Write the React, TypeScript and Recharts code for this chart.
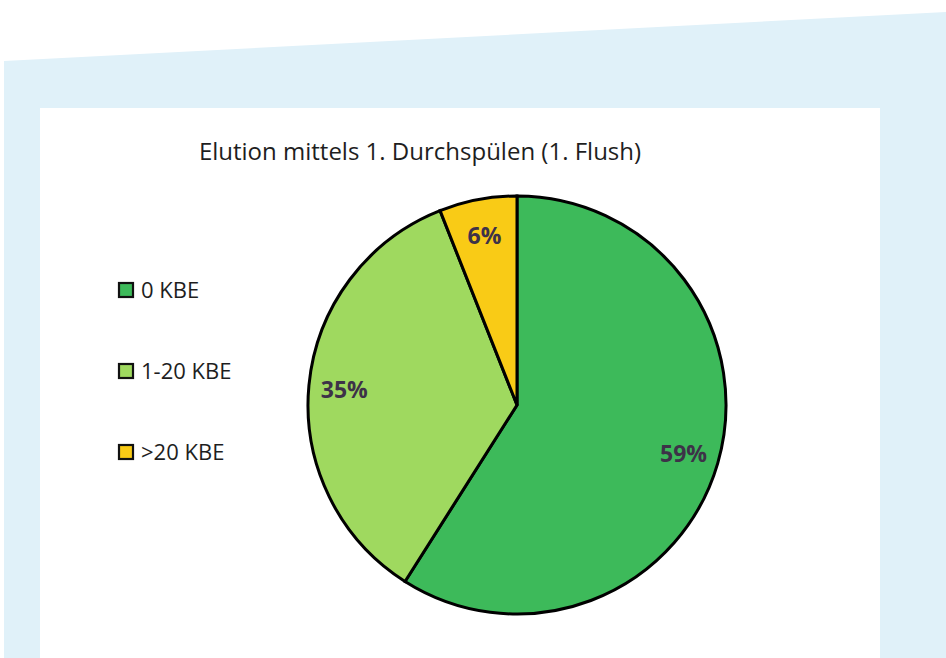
import { PieChart, Pie, Cell } from "recharts"

const categories = ["0 KBE", "1-20 KBE", ">20 KBE"]
const shares = [59, 35, 6]
const COLORS = ["#3dba5a", "#9fd95f", "#f9cb16"]
const TITLE = "Elution mittels 1. Durchspülen (1. Flush)"

const data = categories.map((name, i) => ({ name, value: shares[i] }))

const RAD = Math.PI / 180
const FONT = "'Open Sans', sans-serif"

const renderLabel = (props: any) => {
  const { cx, cy, midAngle, outerRadius, value } = props
  const r = outerRadius * 0.83
  const x = cx + r * Math.cos(-midAngle * RAD)
  const y = cy + r * Math.sin(-midAngle * RAD)
  return (
    <text x={x} y={y} fill="#3d3248" textAnchor="middle" dominantBaseline="central"
      fontFamily={FONT} fontWeight={700} fontSize={23}>
      {`${value}%`}
    </text>
  )
}

export default function App() {
  return (
    <div style={{ position: "absolute", left: 0, top: 0, width: 946, height: 658, background: "#fff", overflow: "hidden" }}>
      <svg width={946} height={658} style={{ position: "absolute", left: 0, top: 0 }}>
        <polygon points="4,61 946,12 946,658 4,658" fill="#e0f1f9" />
        <rect x={40} y={108} width={840} height={560} fill="#ffffff" />
        <text x={420} y={160} textAnchor="middle" fontFamily={FONT} fontSize={24} fill="#1e1e1e">
          {TITLE}
        </text>
        {categories.map((c, i) => (
          <g key={c}>
            <rect x={119} y={283 + i * 81} width={14} height={14} fill={COLORS[i]} stroke="#111" strokeWidth={2.2} />
            <text x={141} y={298 + i * 81} fontFamily={FONT} fontSize={22} fill="#1e1e1e">{c}</text>
          </g>
        ))}
      </svg>
      <div style={{ position: "absolute", left: 0, top: 0 }}>
        <PieChart width={946} height={658} margin={{ top: 0, right: 0, bottom: 0, left: 0 }}>
          <Pie
            data={data}
            dataKey="value"
            nameKey="name"
            cx={517}
            cy={405}
            outerRadius={209}
            startAngle={90}
            endAngle={-270}
            stroke="#000"
            strokeWidth={3}
            label={renderLabel}
            labelLine={false}
            isAnimationActive={false}
          >
            {data.map((d, i) => (
              <Cell key={d.name} fill={COLORS[i]} />
            ))}
          </Pie>
        </PieChart>
      </div>
    </div>
  )
}
